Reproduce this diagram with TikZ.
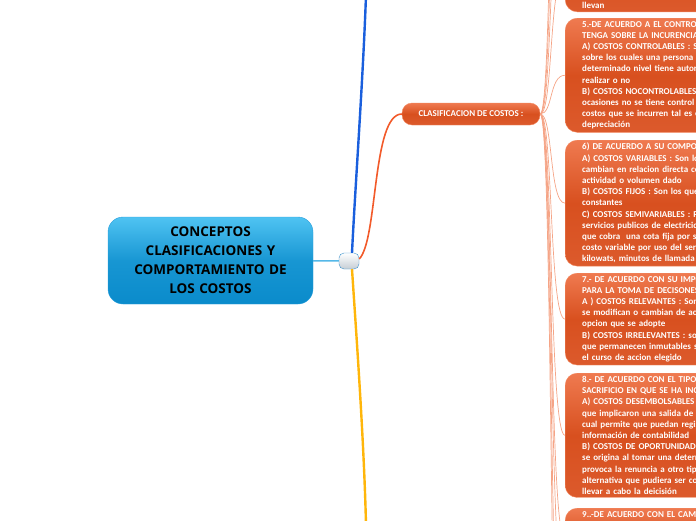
\documentclass[tikz,border=0pt]{standalone}
\usepackage{fontspec}
\setmainfont{Carlito}
\newfontfamily\titlefont{Open Sans}
\usetikzlibrary{positioning}

\definecolor{roottop}{HTML}{4FC3F2}
\definecolor{rootbottom}{HTML}{0A8BCB}
\definecolor{rootedge}{HTML}{2A9FDC}
\definecolor{hubedge}{HTML}{3C92CC}
\definecolor{hubbottom}{HTML}{C5CED5}
\definecolor{cattop}{HTML}{EF7A50}
\definecolor{catmid}{HTML}{D8501F}
\definecolor{catbottom}{HTML}{DC5A2C}
\definecolor{catedge}{HTML}{F28A62}
\definecolor{twigcol}{HTML}{F5A486}
\definecolor{bluebranch}{HTML}{1A5FDD}
\definecolor{yellowbranch}{HTML}{FFB60A}
\definecolor{redbranch}{HTML}{F25A2A}
\definecolor{rootline}{HTML}{55B8E8}

\begin{document}
\begin{tikzpicture}[
        x=1pt, y=-1pt,
        font=\bfseries\fontsize{9}{11.2}\selectfont,
        rootbox/.style={draw=rootedge, rounded corners=15pt, top color=roottop, bottom color=rootbottom, middle color=rootbottom!80!roottop,
            minimum width=205pt, minimum height=87pt, align=center, text width=190pt,
            font=\titlefont\bfseries\fontsize{13.5}{19}\selectfont},
        hubbox/.style={draw=hubedge, rounded corners=5pt, top color=white, bottom color=hubbottom, minimum width=20pt, minimum height=16pt, inner sep=0pt},
        catbox/.style={draw=catedge, rounded corners=10pt, top color=cattop, bottom color=catbottom, middle color=catmid, text=white, minimum width=138pt, minimum height=22pt},
        costbox/.style={draw=catedge, rounded corners=12pt, top color=cattop, bottom color=catbottom, middle color=catmid, text=white,
            align=left, text width=230pt, inner xsep=17pt, inner ysep=3pt, anchor=north west},
        twig/.style={draw=twigcol, line width=0.7pt},
    ]

    \clip (0,0) rectangle (696,520);

    % Nodes
    \node[rootbox] (root) at (210.5,260.5) {CONCEPTOS\\ CLASIFICACIONES Y\\ COMPORTAMIENTO DE\\ LOS COSTOS};
    \node[hubbox] (hub) at (349,261) {};
    \node[catbox] (clasif) at (471,114) {CLASIFICACION DE COSTOS :};

    % off-screen ends
    \coordinate (topend) at (366,-5);
    \coordinate (bottomend) at (366,525);
    \coordinate (up1) at (565,-140);
    \coordinate (up2) at (565,-260);
    \coordinate (up3) at (565,-380);
    \coordinate (down1) at (565,600);
    \coordinate (down2) at (565,720);
    \coordinate (down3) at (565,840);

    % Edges (under the boxes)
    \draw[rootline, line width=1.5pt] (root) -- (hub);
    \draw[bluebranch, line width=2.4pt] ([xshift=3pt]hub.north) .. controls (355,190) and (363,80) .. (topend);
    \draw[yellowbranch, line width=2.4pt] ([xshift=3pt]hub.south) .. controls (356,330) and (364,440) .. (bottomend);
    \draw[redbranch, line width=1.6pt] ([yshift=2pt]hub.east) .. controls (378,240) and (372,114) .. (clasif.west);

    \node[costbox, anchor=south west] (box4) at (565,12) {\mbox{}\\[60pt]llevan};
    \node[costbox] (box5) at (565,18) {5.-DE ACUERDO A EL CONTROL QUE SE\\
        TENGA SOBRE LA INCURENCIA DE LOS COSTOS\\
        A) COSTOS CONTROLABLES : Son aquellos\\
        sobre los cuales una persona de un\\
        determinado nivel tiene autoridad para\\
        realizar o no\\
        B) COSTOS NOCONTROLABLES : En algunas\\
        ocasiones no se tiene control sobre los\\
        costos que se incurren tal es el caso de la\\
        depreciación};
    \node[costbox] (box6) at (565,140) {6) DE ACUERDO A SU COMPORTAMIENTO\\
        A) COSTOS VARIABLES : Son los que\\
        cambian en relacion directa con una\\
        actividad o volumen dado\\
        B) COSTOS FIJOS : Son los que permanecen\\
        constantes\\
        C) COSTOS SEMIVARIABLES : Por ejemplo los\\
        servicios publicos de electricidad, telefono,\\
        que cobra\ \ una cota fija por servicio y un\\
        costo variable por uso del servicio,\\
        kilowats, minutos de llamada};
    \node[costbox] (box7) at (565,273) {7.- DE ACUERDO CON SU IMPORTANCIA\\
        PARA LA TOMA DE DECISONES\\
        A ) COSTOS RELEVANTES : Son aquellos que\\
        se modifican o cambian de acuerdo con la\\
        opcion que se adopte\\
        B) COSTOS IRRELEVANTES : son aquellos\\
        que permanecen inmutables sin importar\\
        el curso de accion elegido};
    \node[costbox] (box8) at (565,373) {8.- DE ACUERDO CON EL TIPO DE\\
        SACRIFICIO EN QUE SE HA INCURRIDO\\
        A) COSTOS DESEMBOLSABLES : Son aquellos\\
        que implicaron una salida de efectivo, lo\\
        cual permite que puedan registrarse en la\\
        información de contabilidad\\
        B) COSTOS DE OPORTUNIDAD : Es aquel que\\
        se origina al tomar una determinación que\\
        provoca la renuncia a otro tipo de\\
        alternativa que pudiera ser considerada al\\
        llevar a cabo la deicisión};
    \node[costbox] (box9) at (565,508) {9..-DE ACUERDO CON EL CAMBIO\\[40pt]\mbox{}};

    % twigs from the category to each box
    \begin{scope}[on background layer/.style={}]
    \foreach \t in {up3, up2, up1, box4, box5, box6, box7, box8, box9, down1, down2, down3}
        \draw[twig] (clasif.east) .. controls ([xshift=13pt]clasif.east) and ([xshift=-16pt]\t.west) .. (\t.west);
    \end{scope}

    \end{tikzpicture}
\end{document}
